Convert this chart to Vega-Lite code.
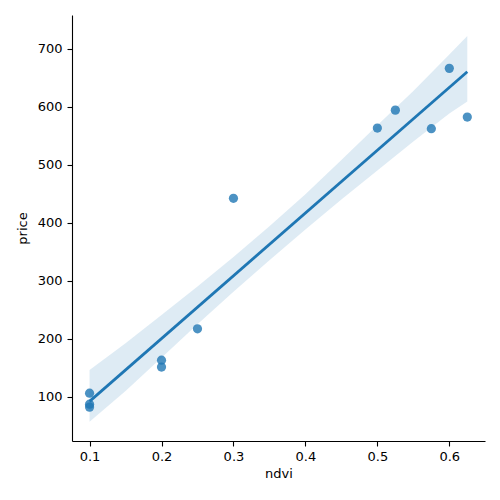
{
  "$schema": "https://vega.github.io/schema/vega-lite/v6.json",
  "width": 413,
  "height": 426,
  "autosize": {"type": "none"},
  "padding": {"left": 72, "top": 15, "right": 15, "bottom": 59},
  "background": "white",
  "config": {
    "view": {"stroke": null},
    "font": "DejaVu Sans",
    "axis": {
      "domainColor": "black",
      "domainWidth": 1.1,
      "tickColor": "black",
      "tickWidth": 1.1,
      "tickSize": 5,
      "grid": false,
      "labelFont": "DejaVu Sans",
      "labelFontSize": 13,
      "labelColor": "black",
      "titleFont": "DejaVu Sans",
      "titleFontSize": 13,
      "titleFontWeight": "normal",
      "titleColor": "black"
    }
  },
  "datasets": {
    "points": [
      {"ndvi": 0.1, "price": 106},
      {"ndvi": 0.1, "price": 87},
      {"ndvi": 0.1, "price": 82},
      {"ndvi": 0.2, "price": 163},
      {"ndvi": 0.2, "price": 151},
      {"ndvi": 0.25, "price": 217},
      {"ndvi": 0.3, "price": 442},
      {"ndvi": 0.5, "price": 563},
      {"ndvi": 0.525, "price": 594},
      {"ndvi": 0.575, "price": 562},
      {"ndvi": 0.6, "price": 666},
      {"ndvi": 0.625, "price": 582}
    ],
    "band": [
      {"ndvi": 0.1, "lo": 57, "hi": 146},
      {"ndvi": 0.15, "lo": 110, "hi": 192},
      {"ndvi": 0.2, "lo": 167, "hi": 241},
      {"ndvi": 0.25, "lo": 225, "hi": 290},
      {"ndvi": 0.3, "lo": 281, "hi": 341},
      {"ndvi": 0.35, "lo": 335, "hi": 394},
      {"ndvi": 0.4, "lo": 388, "hi": 449},
      {"ndvi": 0.45, "lo": 440, "hi": 508},
      {"ndvi": 0.5, "lo": 490, "hi": 568},
      {"ndvi": 0.55, "lo": 540, "hi": 627},
      {"ndvi": 0.6, "lo": 588, "hi": 690},
      {"ndvi": 0.625, "lo": 609, "hi": 722}
    ]
  },
  "encoding": {
    "x": {
      "field": "ndvi", "type": "quantitative",
      "scale": {"domain": [0.0756, 0.6496], "nice": false, "zero": false},
      "axis": {"title": "ndvi", "values": [0.1, 0.2, 0.3, 0.4, 0.5, 0.6], "format": ".1f", "labelPadding": 4, "titlePadding": 4}
    }
  },
  "layer": [
    {
      "data": {"name": "points"},
      "mark": {"type": "point", "filled": true, "shape": "circle", "size": 85, "color": "#1f77b4", "opacity": 0.8},
      "encoding": {
        "y": {
          "field": "price", "type": "quantitative",
          "scale": {"domain": [23.6, 758], "nice": false, "zero": false},
          "axis": {"title": "price", "values": [100, 200, 300, 400, 500, 600, 700], "format": "d", "labelPadding": 5, "titlePadding": 8}
        }
      }
    },
    {
      "data": {"name": "band"},
      "mark": {"type": "area", "color": "#1f77b4", "opacity": 0.15},
      "encoding": {
        "y": {"field": "lo", "type": "quantitative"},
        "y2": {"field": "hi"}
      }
    },
    {
      "data": {"name": "points"},
      "transform": [{"regression": "price", "on": "ndvi"}],
      "mark": {"type": "line", "color": "#1f77b4", "strokeWidth": 2.8},
      "encoding": {
        "y": {"field": "price", "type": "quantitative"}
      }
    }
  ]
}
